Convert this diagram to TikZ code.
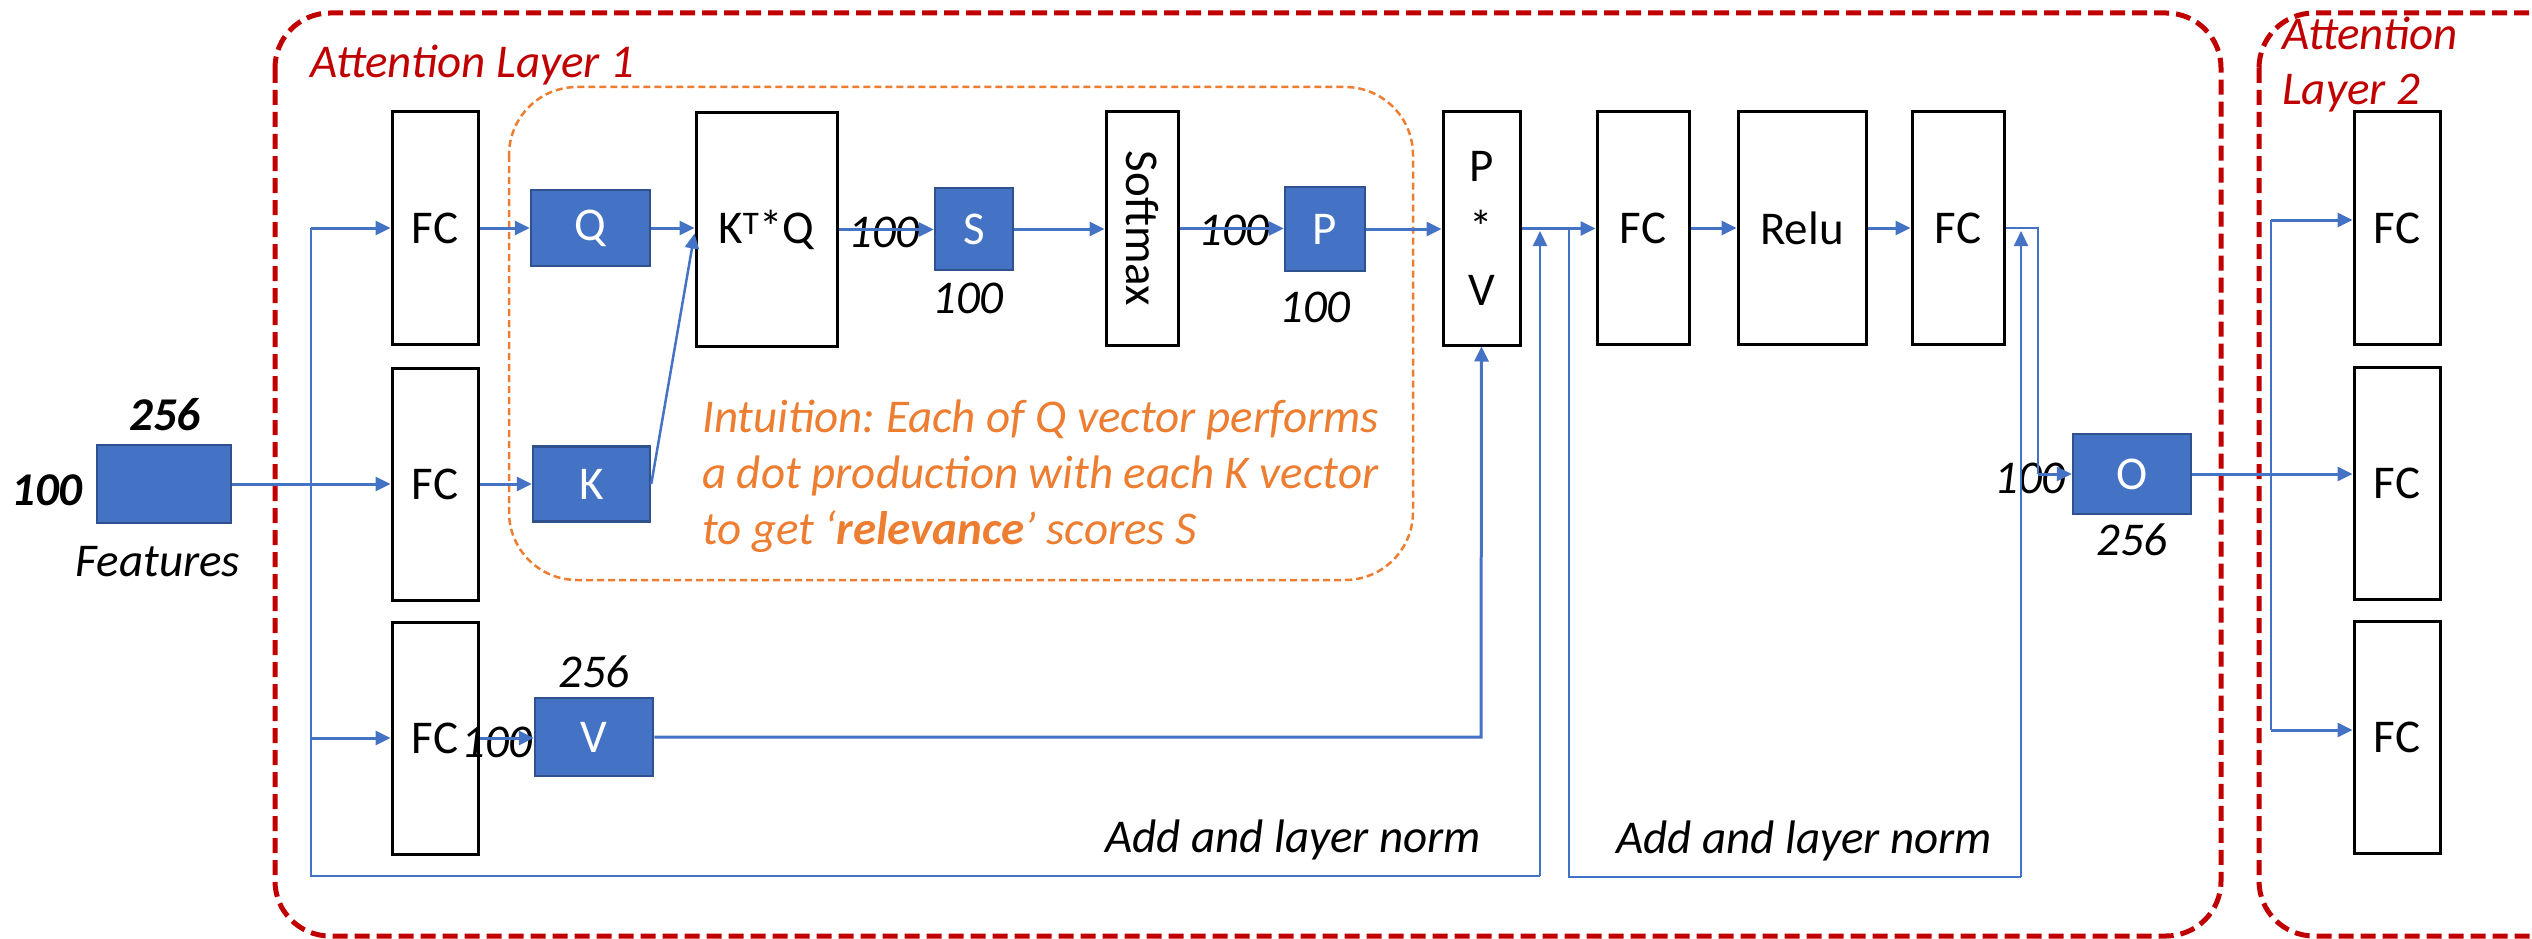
\documentclass[tikz,border=0pt]{standalone}
\usepackage{fontspec}
\setmainfont{Carlito}
\usetikzlibrary{arrows.meta}
\definecolor{boxblue}{HTML}{4472C4}
\definecolor{boxedge}{HTML}{2F528F}
\definecolor{lineblue}{HTML}{4472C4}
\definecolor{darkred}{HTML}{C00000}
\definecolor{orangeT}{HTML}{ED7D31}
\frenchspacing
\begin{document}
\begin{tikzpicture}[x=1pt,y=-1pt,
  every node/.style={font=\fontsize{47}{56}\selectfont, inner sep=0pt},
  fcbox/.style={draw=black, fill=white, line width=3pt, minimum width=86pt, minimum height=232pt},
  vecbox/.style={draw=boxedge, fill=boxblue, line width=2.5pt, text=white},
  num/.style={font=\fontsize{47}{56}\selectfont\itshape},
  bnum/.style={font=\fontsize{47}{56}\selectfont\bfseries\itshape},
  tip/.style={-{Triangle[length=15pt,width=14pt]}},
  flow/.style={draw=lineblue, line width=3pt, tip},
  skipl/.style={draw=lineblue, line width=2pt},
  reddash/.style={draw=darkred, line width=5pt, dash pattern=on 15pt off 7pt},
  orangedash/.style={draw=orangeT, line width=2.5pt, dash pattern=on 7pt off 4pt},
  redtext/.style={font=\fontsize{47}{56}\selectfont\itshape, text=darkred},
  orangetext/.style={font=\fontsize{47}{56}\selectfont\itshape, text=orangeT},
]
\useasboundingbox (0,0) rectangle (2532,939);
\clip (0,0) rectangle (2532,939);

% layer frames
\draw[reddash, rounded corners=55pt] (275,13) rectangle (2221,936);
\draw[reddash, rounded corners=55pt] (2259,13) rectangle (2700,936);
\draw[orangedash, rounded corners=68pt] (509,87) rectangle (1413,580);

% titles
\node[redtext, anchor=base west] (t1) at (310,78) {Attention Layer 1};
\node[redtext, anchor=base west] (t2a) at (2282,50) {Attention};
\node[redtext, anchor=base west] (t2b) at (2282,105) {Layer 2};

% input
\node[vecbox, minimum width=134pt, minimum height=78pt] (feat) at (164,484) {};
\node[bnum] (in100) at (47,490) {100};
\node[bnum] (in256) at (165,415) {256};
\node[num] (featl) at (158,562) {Features};

% FC layers
\node[fcbox] (fc1) at (435,228) {FC};
\node[fcbox] (fc2) at (435,484) {FC};
\node[fcbox] (fc3) at (435,738) {FC};

\node[vecbox, minimum width=119pt, minimum height=76pt] (q) at (590.5,228) {Q};
\node[vecbox, minimum width=117pt, minimum height=75pt] (k) at (591.5,484) {K};
\node[vecbox, minimum width=118pt, minimum height=78pt] (v) at (594,737) {V};

\node[fcbox, minimum width=141pt, minimum height=233pt] (ktq) at (766.5,229.5) {K\textsuperscript{T}*Q};
\node[vecbox, minimum width=78pt, minimum height=82pt] (s) at (974,229) {S};
\node[fcbox, minimum width=72pt, minimum height=233pt] (sm) at (1142,228.5) {};
\node[rotate=-90] (smtext) at (sm.center) {Softmax};
\node[vecbox, minimum width=80pt, minimum height=84pt] (p) at (1325,229) {P};
\node[fcbox, minimum width=77pt, minimum height=233pt, align=center, font=\fontsize{47}{62}\selectfont] (pv) at (1481.5,228.5) {P\\*\\V};
\node[fcbox, minimum width=92pt] (fca) at (1643,228) {FC};
\node[fcbox, minimum width=128pt] (relu) at (1802,228) {Relu};
\node[fcbox, minimum width=92pt] (fcb) at (1958,228) {FC};
\node[vecbox, minimum width=118pt, minimum height=80pt] (o) at (2132,474) {O};

\node[fcbox] (l2a) at (2397,228) {FC};
\node[fcbox] (l2b) at (2397,483) {FC};
\node[fcbox] (l2c) at (2397,737.5) {FC};

% dimension labels
\node[num] (n1) at (884,232) {100};
\node[num] (n2) at (968,298) {100};
\node[num] (n3) at (1234,230) {100};
\node[num] (n4) at (1315,307) {100};
\node[num] (n5) at (594,672) {256};
\node[num] (n6) at (497,742) {100};
\node[num] (n7) at (2030,478) {100};
\node[num] (n8) at (2132,540) {256};
\node[num] (aln1) at (1293,840) {Add and layer norm};
\node[num] (aln2) at (1804,841) {Add and layer norm};

% intuition
\node[orangetext, anchor=base west] (i1) at (702,432) {Intuition: Each of Q vector performs};
\node[orangetext, anchor=base west] (i2) at (702,488) {a dot production with each K vector};
\node[orangetext, anchor=base west] (i3) at (702,544) {to get `\textbf{relevance}' scores S};

% coordinates
\coordinate (j1t) at (311,228);
\coordinate (j1m) at (311,738);
\coordinate (j1b) at (311,876);
\coordinate (j1r) at (1540,876);
\coordinate (j1a) at (1540,231);
\coordinate (j2t) at (1569,228);
\coordinate (j2b) at (1569,877);
\coordinate (j2r) at (2021,877);
\coordinate (j2a) at (2021,231);
\coordinate (c4) at (2038,228);
\coordinate (c4b) at (2038,474);
\coordinate (vc) at (1481,737);
\coordinate (l2t) at (2271,220);
\coordinate (l2bt) at (2271,730);

% connectors
\draw[flow] (feat.east) -- (fc2.west);
\draw[skipl] (j1t) -- (j1b) -- (j1r);
\draw[skipl, tip] (j1r) -- (j1a);
\draw[flow] (j1t) -- (fc1.west);
\draw[flow] (j1m) -- (fc3.west);
\draw[flow] (fc1.east) -- (fc1.east -| q.west);
\draw[flow] (fc2.east) -- (fc2.east -| k.west);
\draw[flow] (fc3.east) -- (fc3.east -| v.west);
\draw[flow] (q.east) -- (q.east -| ktq.west);
\draw[skipl, line width=2.5pt, tip] (k.east) -- ([yshift=-4pt]ktq.west);
\draw[flow] (ktq.east) -- (ktq.east -| s.west);
\draw[flow] (s.east) -- (s.east -| sm.west);
\draw[flow] (sm.east) -- (sm.east -| p.west);
\draw[flow] (p.east) -- (p.east -| pv.west);
\draw[flow] (pv.east) -- (pv.east -| fca.west);
\draw[flow] (fca.east) -- (relu.west);
\draw[flow] (relu.east) -- (fcb.west);
\draw[skipl] (j2t) -- (j2b) -- (j2r);
\draw[skipl, tip] (j2r) -- (j2a);
\draw[skipl, line width=2.5pt] (fcb.east) -- (c4) -- (c4b);
\draw[flow] (c4b) -- (o.west);
\draw[flow] (v.east) -- (vc) -- (pv.south);
\draw[flow] (o.east) -- (o.east -| l2b.west);
\draw[skipl] (l2t) -- (l2bt);
\draw[flow] (l2t) -- (l2t -| l2a.west);
\draw[flow] (l2bt) -- (l2bt -| l2c.west);
\end{tikzpicture}
\end{document}
